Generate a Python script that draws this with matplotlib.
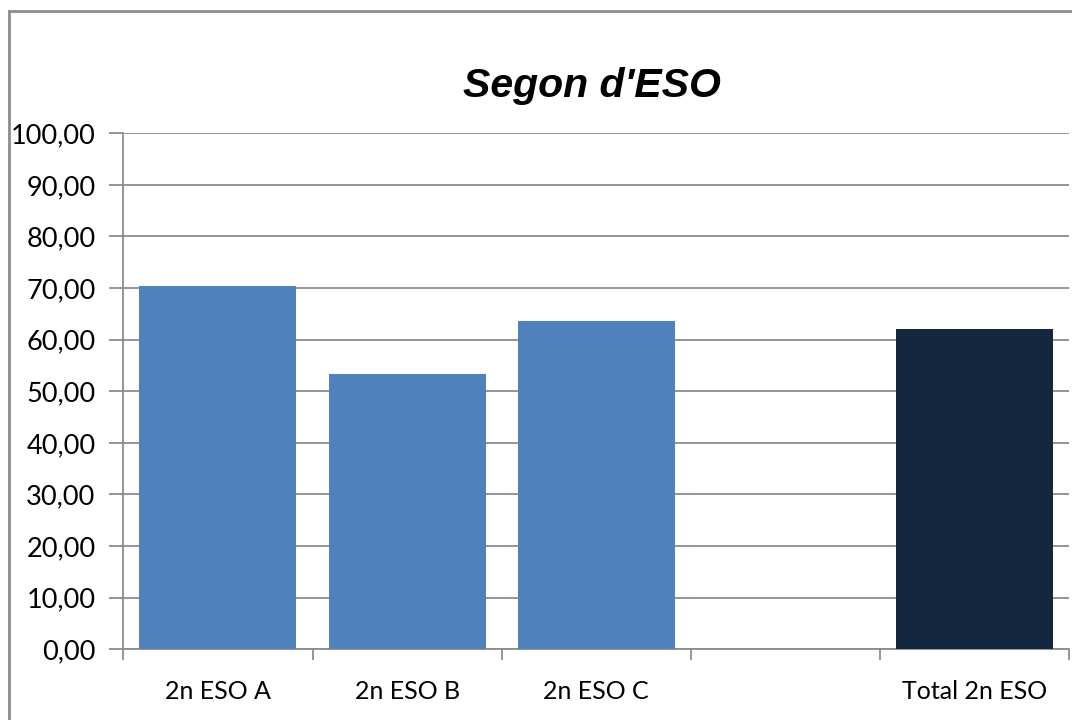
import matplotlib.pyplot as plt
from matplotlib.lines import Line2D
from matplotlib.ticker import FuncFormatter, FixedLocator

categories = ["2n ESO A", "2n ESO B", "2n ESO C", "", "Total 2n ESO"]
values = [70.4, 53.3, 63.7, 0.0, 62.0]
bar_colors = ["#4F81BD", "#4F81BD", "#4F81BD", "#4F81BD", "#13273F"]

fig = plt.figure(figsize=(10.72, 7.2), dpi=100)
ax = fig.add_axes([123.3 / 1072, 1 - 649.3 / 720, (1069.3 - 123.3) / 1072, (649.3 - 133.3) / 720])

x = list(range(len(categories)))
ax.bar(x, values, width=0.83, color=bar_colors, zorder=3)

ax.set_xlim(-0.5, len(categories) - 0.5)
ax.set_ylim(0, 100)
ax.set_yticks(range(0, 101, 10))
ax.yaxis.set_major_formatter(FuncFormatter(lambda v, p: f"{v:.2f}".replace(".", ",")))
ax.yaxis.grid(True, color="#8C8C8C", linewidth=1.3, zorder=0)

# category labels centered, ticks on category boundaries
ax.set_xticks(x)
ax.set_xticklabels(categories, fontfamily="Lato", fontsize=18)
ax.tick_params(axis="x", which="major", length=0, pad=22)
ax.xaxis.set_minor_locator(FixedLocator([i - 0.5 for i in range(len(categories) + 1)]))
ax.tick_params(axis="x", which="minor", length=8, width=1.3, color="#8C8C8C", direction="out")
ax.tick_params(axis="y", length=10, width=1.3, color="#8C8C8C", direction="out",
               labelsize=19.5, pad=10)
for lab in ax.get_yticklabels():
    lab.set_fontfamily("Lato")

for side in ["top", "right"]:
    ax.spines[side].set_visible(False)
for side in ["left", "bottom"]:
    ax.spines[side].set_color("#8C8C8C")
    ax.spines[side].set_linewidth(1.3)

fig.text(592 / 1072, 1 - 86 / 720, "Segon d'ESO", ha="center", va="center",
         fontsize=29.5, fontweight="bold", fontstyle="italic", fontfamily="Liberation Sans")

# chart area border: only left and top edges are visible
bx, by = 8.5 / 1072, 1 - 10.5 / 720
fig.lines.append(Line2D([bx, bx], [-0.1, by], transform=fig.transFigure, color="#8C8C8C", linewidth=2))
fig.lines.append(Line2D([bx, 1.1], [by, by], transform=fig.transFigure, color="#8C8C8C", linewidth=2))

fig.savefig("out.png", dpi=100)
